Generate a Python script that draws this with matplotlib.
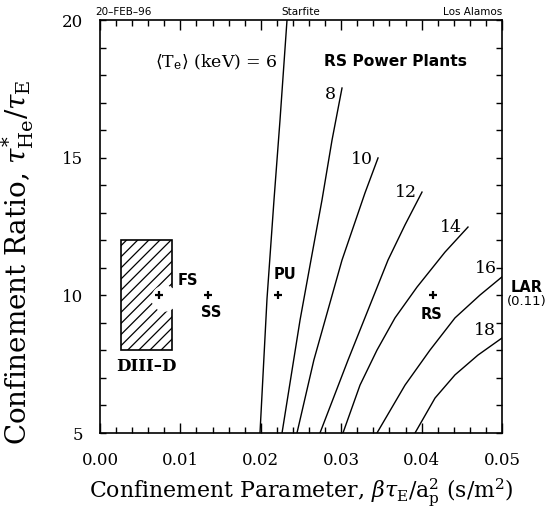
import matplotlib
matplotlib.use("Agg")
import matplotlib.pyplot as plt
from matplotlib.patches import Rectangle
from matplotlib.ticker import MultipleLocator

plt.rcParams['font.family'] = ['DejaVu Serif']
plt.rcParams['mathtext.fontset'] = 'dejavuserif'
plt.rcParams['hatch.linewidth'] = 0.9

# Contour curves: <Te> (keV) values and their (x, y) traces
curve_levels = [6, 8, 10, 12, 14, 16, 18]
c6_x = [0.01990, 0.02077, 0.02164, 0.02239, 0.02326]
c6_y = [5.0, 9.87, 13.46, 16.37, 20.0]
c8_x = [0.02264, 0.02488, 0.02624, 0.02761, 0.02886, 0.03010]
c8_y = [5.0, 9.10, 11.28, 13.46, 15.64, 17.53]
c10_x = [0.02450, 0.02660, 0.03010, 0.03296, 0.03458]
c10_y = [5.0, 7.65, 11.28, 13.72, 14.99]
c12_x = [0.02736, 0.03085, 0.03582, 0.03794, 0.04005]
c12_y = [5.0, 7.65, 11.28, 12.56, 13.75]
c14_x = [0.03022, 0.03234, 0.03445, 0.03669, 0.03943, 0.04291, 0.04577]
c14_y = [5.0, 6.74, 8.01, 9.18, 10.30, 11.57, 12.48]
c16_x = [0.03445, 0.03794, 0.04104, 0.04415, 0.04726, 0.05000]
c16_y = [5.0, 6.74, 8.01, 9.18, 10.01, 10.67]
c18_x = [0.03918, 0.04167, 0.04415, 0.04701, 0.05000]
c18_y = [5.0, 6.27, 7.11, 7.83, 8.45]

# Design points
point_names = ["FS", "SS", "PU", "RS"]
point_x = [0.0073, 0.0134, 0.0221, 0.0414]
point_y = [10.0, 10.0, 10.0, 10.0]

# DIII-D box
box_x = [0.0026, 0.0090]
box_y = [8.0, 12.0]

x_ticks = [0.00, 0.01, 0.02, 0.03, 0.04, 0.05]
x_ticklabels = ["0.00", "0.01", "0.02", "0.03", "0.04", "0.05"]
y_ticks = [5, 10, 15, 20]

fig = plt.figure(figsize=(5.52, 5.09), dpi=100)
ax = fig.add_axes([100/552, 1-433/509, 402/552, 413/509])

curves = [(c6_x, c6_y), (c8_x, c8_y), (c10_x, c10_y), (c12_x, c12_y),
          (c14_x, c14_y), (c16_x, c16_y), (c18_x, c18_y)]
for cx, cy in curves:
    ax.plot(cx, cy, color='black', lw=1.0)

# DIII-D hatched box
ax.add_patch(Rectangle((box_x[0], box_y[0]), box_x[1]-box_x[0], box_y[1]-box_y[0],
                       fill=False, hatch='///', edgecolor='black', lw=1.2))
ax.plot([point_x[0] + 0.0006], [point_y[0] - 0.1], marker='o', ms=18,
        color='white', mec='white', zorder=3)
ax.plot(point_x, point_y, ls='none', marker='+', ms=6, mew=1.6,
        color='black', zorder=4)

bold_sans = dict(family='DejaVu Sans', fontweight='bold', fontsize=10.5)
ax.text(0.01095, 10.55, "FS", ha='center', va='center', **bold_sans)
ax.text(0.01381, 9.36, "SS", ha='center', va='center', **bold_sans)
ax.text(0.0230, 10.74, "PU", ha='center', va='center', **bold_sans)
ax.text(0.04117, 9.29, "RS", ha='center', va='center', **bold_sans)
ax.text(0.05311, 10.30, "LAR", ha='center', va='center', clip_on=False, **bold_sans)
ax.text(0.05311, 9.76, "(0.11)", ha='center', va='center', clip_on=False,
        family='DejaVu Sans', fontsize=9.5)
ax.text(0.02786, 18.48, "RS Power Plants", ha='left', va='center',
        family='DejaVu Sans', fontweight='bold', fontsize=11.2)
ax.text(0.00572, 7.43, "DIII\u2013D", ha='center', va='center',
        fontsize=12, fontweight='bold')
ax.text(0.0221, 18.48, r"$\langle$T$_{\rm e}\rangle$ (keV) = 6", ha='right', va='center',
        fontsize=12.5)

label_pos = [(0.02861, 17.31), (0.03259, 14.95), (0.03806, 13.72),
             (0.04366, 12.48), (0.04801, 10.96), (0.04789, 8.74)]
for lev, (lx, ly) in zip(curve_levels[1:], label_pos):
    ax.text(lx, ly, str(lev), ha='center', va='center', fontsize=12.5)

ax.set_xlim(0, 0.05)
ax.set_ylim(5, 20)
ax.set_xticks(x_ticks)
ax.set_xticklabels(x_ticklabels)
ax.set_yticks(y_ticks)
ax.xaxis.set_minor_locator(MultipleLocator(0.002))
ax.yaxis.set_minor_locator(MultipleLocator(1))
ax.tick_params(which='both', direction='in', top=True, right=True, width=1.0)
ax.tick_params(which='major', length=7, labelsize=12)
ax.tick_params(axis='x', which='major', pad=14)
ax.tick_params(axis='y', which='major', pad=12, length=4.5)
ax.tick_params(which='minor', length=4.5)
for s in ax.spines.values():
    s.set_linewidth(1.2)

ax.set_xlabel(r"Confinement Parameter, $\beta\tau_{\rm E}/{\rm a}_{\rm p}^{2}$ (s/m$^{2}$)",
              fontsize=15.8)
ax.xaxis.set_label_coords(0.5, -0.106)
ax.set_ylabel(r"Confinement Ratio, $\tau^{*}_{\rm He}/\tau_{\rm E}$", fontsize=20)
ax.yaxis.set_label_coords(-0.158, 0.414)

ax.text(-0.012, 1.008, "20\u2013FEB\u201396", transform=ax.transAxes, ha='left',
        va='bottom', family='DejaVu Sans', fontsize=7.5)
ax.text(0.5, 1.008, "Starfite", transform=ax.transAxes, ha='center',
        va='bottom', family='DejaVu Sans', fontsize=7.5)
ax.text(1.0, 1.008, "Los Alamos", transform=ax.transAxes, ha='right',
        va='bottom', family='DejaVu Sans', fontsize=7.5)

fig.savefig("out.png", dpi=100)
